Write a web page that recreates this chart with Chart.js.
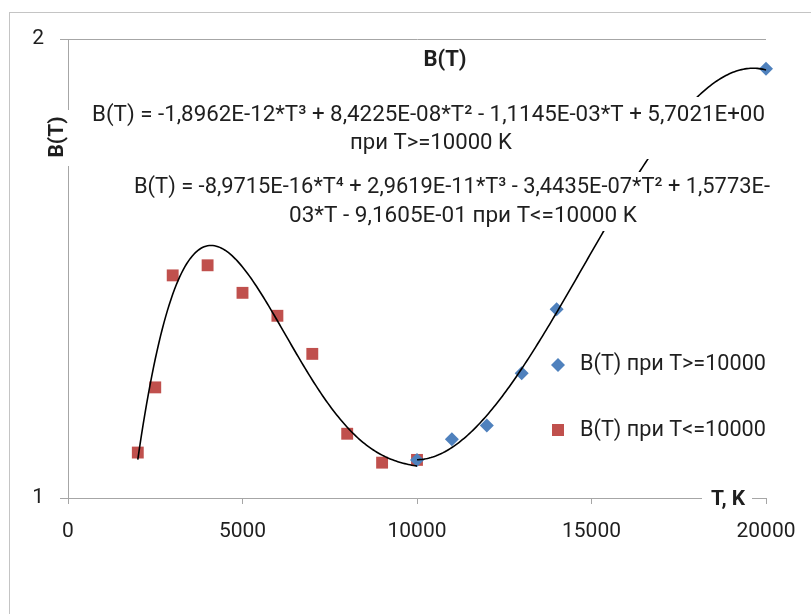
<!DOCTYPE html>
<html>
<head>
<meta charset="utf-8">
<script src="https://cdn.jsdelivr.net/npm/chart.js@4.4.0/dist/chart.umd.min.js"></script>
<style>
  body { margin: 0; background: #fff; }
  canvas { display: block; }
</style>
</head>
<body>
<canvas id="myChart" width="811" height="614"></canvas>
<script>
// measured points
const tempLow = [2000, 2500, 3000, 4000, 5000, 6000, 7000, 8000, 9000, 10000];
const bLow = [1.099, 1.241, 1.485, 1.507, 1.447, 1.397, 1.314, 1.140, 1.077, 1.083];
const tempHigh = [10000, 11000, 12000, 13000, 14000, 20000];
const bHigh = [1.083, 1.128, 1.158, 1.272, 1.411, 1.935];

// trendline coefficients as printed on the chart (highest power first)
const lowFitCoef = [-8.9715e-16, 2.9619e-11, -3.4435e-07, 1.5773e-03, -9.1605e-01];
const highFitCoef = [-1.8962e-12, 8.4225e-08, -1.1145e-03, 5.7021e+00];

const xTicks = [0, 5000, 10000, 15000, 20000];
const yTicks = [1, 2];

const seriesNames = ["B(T) при T>=10000", "B(T) при T<=10000"];
const eqLines = [
  "B(T) = -1,8962E-12*T³ + 8,4225E-08*T² - 1,1145E-03*T + 5,7021E+00",
  "при T>=10000 K",
  "B(T) = -8,9715E-16*T⁴ + 2,9619E-11*T³ - 3,4435E-07*T² + 1,5773E-",
  "03*T - 9,1605E-01 при T<=10000 K"
];

function poly(coef, t) {
  return coef.reduce((acc, c) => acc * t + c, 0);
}
function trend(coef, from, to) {
  const pts = [];
  for (let t = from; t <= to; t += 50) pts.push({x: t, y: poly(coef, t)});
  return pts;
}

const FONT = "Roboto, 'Open Sans', sans-serif";
const axisGray = "#a6a6a6";
const textCol = "#1f1f1f";

function fitText(ctx, text, x0, x1, y, weight) {
  ctx.font = weight + " 20px " + FONT;
  const w = ctx.measureText(text).width;
  const size = 20 * (x1 - x0) / w;
  ctx.font = weight + " " + size.toFixed(2) + "px " + FONT;
  ctx.textAlign = "left";
  ctx.textBaseline = "middle";
  ctx.fillText(text, x0, y);
}

const overlay = {
  id: "overlay",
  beforeDraw(chart) {
    const ctx = chart.ctx;
    ctx.save();
    ctx.fillStyle = "#fff";
    ctx.fillRect(0, 0, chart.width, chart.height);
    ctx.restore();
  },
  afterDraw(chart) {
    const ctx = chart.ctx;
    ctx.save();
    // outer frame
    ctx.strokeStyle = "#c4c4c4";
    ctx.lineWidth = 1;
    ctx.strokeRect(9.5, 12.5, 900, 800);

    // label backgrounds (hide trendline behind them)
    ctx.fillStyle = "#fff";
    ctx.fillRect(86, 97, 688, 62);
    ctx.fillRect(128, 172, 648, 59);

    ctx.fillStyle = textCol;
    fitText(ctx, eqLines[0], 92, 765, 115, "normal");
    fitText(ctx, eqLines[1], 350, 512, 143, "normal");
    fitText(ctx, eqLines[2], 134, 770, 188, "normal");
    fitText(ctx, eqLines[3], 289, 637, 216, "normal");

    // title
    ctx.font = "bold 22px " + FONT;
    ctx.textAlign = "center";
    ctx.textBaseline = "middle";
    ctx.fillText("B(T)", 445, 60);

    // y axis title
    ctx.fillStyle = "#fff";
    ctx.fillRect(45, 110, 26, 56);
    ctx.fillStyle = textCol;
    ctx.save();
    ctx.translate(58, 137);
    ctx.rotate(-Math.PI / 2);
    ctx.font = "bold 21px " + FONT;
    ctx.fillText("B(T)", 0, 0);
    ctx.restore();

    // x axis title
    ctx.fillStyle = "#fff";
    ctx.fillRect(702, 487, 50, 24);
    ctx.fillStyle = textCol;
    ctx.font = "bold 21px " + FONT;
    ctx.textAlign = "center";
    ctx.fillText("T, K", 728, 500);

    // legend
    ctx.fillStyle = "#4f81bd";
    ctx.beginPath();
    ctx.moveTo(558, 358); ctx.lineTo(565, 365); ctx.lineTo(558, 372); ctx.lineTo(551, 365);
    ctx.closePath(); ctx.fill();
    ctx.fillStyle = "#c0504d";
    ctx.fillRect(552, 424, 12, 12);
    ctx.fillStyle = textCol;
    fitText(ctx, seriesNames[0], 580, 766, 365, "normal");
    fitText(ctx, seriesNames[1], 580, 766, 431, "normal");
    ctx.restore();
  }
};

new Chart(document.querySelector("#myChart").getContext("2d"), {
  type: "scatter",
  data: {
    datasets: [
      {
        label: "trend high",
        data: trend(highFitCoef, 10000, 20000),
        showLine: true,
        borderColor: "#000",
        borderWidth: 1.6,
        pointRadius: 0,
        order: 0,
        clip: false
      },
      {
        label: "trend low",
        data: trend(lowFitCoef, 2000, 10000),
        showLine: true,
        borderColor: "#000",
        borderWidth: 1.6,
        pointRadius: 0,
        order: 0,
        clip: false
      },
      {
        label: seriesNames[0],
        data: tempHigh.map((t, i) => ({x: t, y: bHigh[i]})),
        pointStyle: "rectRot",
        pointRadius: 7,
        backgroundColor: "#4f81bd",
        borderColor: "#4f81bd",
        borderWidth: 0,
        order: 1,
        clip: false
      },
      {
        label: seriesNames[1],
        data: tempLow.map((t, i) => ({x: t, y: bLow[i]})),
        pointStyle: "rect",
        pointRadius: 8.4,
        backgroundColor: "#c0504d",
        borderColor: "#c0504d",
        borderWidth: 0,
        order: 1,
        clip: false
      }
    ]
  },
  options: {
    responsive: false,
    animation: false,
    layout: { padding: { left: 0, top: 39, right: 45, bottom: 0 } },
    plugins: { legend: { display: false }, tooltip: { enabled: false } },
    scales: {
      x: {
        type: "linear",
        min: 0,
        max: 20000,
        afterBuildTicks: s => { s.ticks = xTicks.map(v => ({value: v})); },
        afterFit: s => { s.height = 116; },
        ticks: { font: { family: FONT, size: 21 }, color: textCol, padding: 15, maxRotation: 0,
                 callback: v => String(v) },
        grid: { drawOnChartArea: false, color: axisGray, tickLength: 6 },
        border: { color: axisGray }
      },
      y: {
        min: 1,
        max: 2,
        afterBuildTicks: s => { s.ticks = yTicks.map(v => ({value: v})); },
        afterFit: s => { s.width = 68; },
        ticks: { font: { family: FONT, size: 21 }, color: textCol, padding: 16,
                 callback: v => String(v) },
        grid: { color: axisGray, tickLength: 8 },
        border: { color: axisGray }
      }
    }
  },
  plugins: [overlay]
});
</script>
</body>
</html>
